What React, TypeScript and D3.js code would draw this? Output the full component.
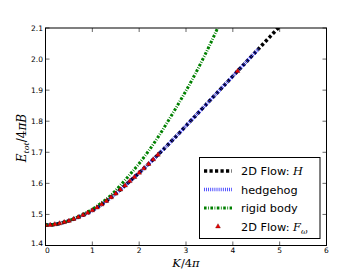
import React from 'react';
import * as d3 from 'd3';

// 2D Flow: H (black dashed)
const flowHK = [0, 0.2, 0.4, 0.6, 0.8, 1.0, 1.2, 1.4, 1.6, 1.8, 2.0, 2.2, 2.4, 2.6, 2.8, 3.0, 3.2, 3.4, 3.6, 3.8, 4.0, 4.2, 4.4, 4.6, 4.8, 5.0];
const flowHE = [1.466, 1.468, 1.475, 1.485, 1.498, 1.513, 1.532, 1.555, 1.580, 1.607, 1.634, 1.662, 1.692, 1.722, 1.753, 1.785, 1.817, 1.849, 1.881, 1.913, 1.945, 1.977, 2.009, 2.041, 2.073, 2.105];

// hedgehog (blue dotted)
const hedgeK = [0, 0.2, 0.4, 0.6, 0.8, 1.0, 1.2, 1.4, 1.6, 1.8, 2.0, 2.2, 2.4, 2.6, 2.8, 3.0, 3.2, 3.4, 3.6, 3.8, 4.0, 4.2, 4.4, 4.55];
const hedgeE = [1.466, 1.468, 1.475, 1.485, 1.498, 1.513, 1.532, 1.555, 1.580, 1.607, 1.634, 1.662, 1.692, 1.722, 1.753, 1.785, 1.817, 1.849, 1.881, 1.913, 1.945, 1.977, 2.009, 2.033];

// rigid body (green dash-dot)
const rigidK = [0, 0.2, 0.4, 0.6, 0.8, 1.0, 1.2, 1.4, 1.6, 1.8, 2.0, 2.2, 2.4, 2.6, 2.8, 3.0, 3.2, 3.4, 3.6, 3.7];
const rigidE = [1.466, 1.468, 1.475, 1.486, 1.500, 1.517, 1.538, 1.562, 1.594, 1.628, 1.664, 1.704, 1.748, 1.796, 1.846, 1.898, 1.953, 2.012, 2.075, 2.108];

// 2D Flow: F_omega (red triangles)
const fwK = [0, 0.1, 0.2, 0.3, 0.4, 0.5, 0.6, 0.7, 0.8, 0.9, 1.0, 1.1, 1.2, 1.3, 1.4, 1.5, 1.6, 1.7, 1.8, 1.9, 2.0, 2.1, 2.2, 2.3, 2.4, 4.1];
const fwE = [1.466, 1.466, 1.468, 1.471, 1.475, 1.479, 1.485, 1.491, 1.498, 1.505, 1.513, 1.522, 1.532, 1.543, 1.555, 1.567, 1.580, 1.593, 1.607, 1.620, 1.634, 1.648, 1.662, 1.677, 1.692, 1.961];

const xTicks = [0, 1, 2, 3, 4, 5, 6];
const yTicks = [1.4, 1.5, 1.6, 1.7, 1.8, 1.9, 2.0, 2.1];

const zip = (a: number[], b: number[]) => a.map((v, i) => [v, b[i]] as [number, number]);

export default function App() {
  const W = 363, H = 273;
  const L = 45.5, R = 326.5, T = 28, B = 245.5;
  const x = d3.scaleLinear().domain([0, 6]).range([L, R]);
  const y = d3.scaleLinear().domain([1.4, 2.1]).range([B, T]);
  const line = d3.line<[number, number]>().x(d => x(d[0])).y(d => y(d[1])).curve(d3.curveMonotoneX);
  const tri = d3.symbol(d3.symbolTriangle, 10)() as string;
  const tickFont = { fontFamily: 'DejaVu Sans, sans-serif', fontSize: 7.5 };
  const legFont = { fontFamily: 'DejaVu Sans, sans-serif', fontSize: 11.3 };
  const mathFont = 'DejaVu Serif, serif';

  const blackStyle = { stroke: '#000', strokeWidth: 3.5, strokeDasharray: '3.2 2.3', fill: 'none' };
  const blueStyle = { stroke: '#2a2aff', strokeWidth: 3.5, strokeDasharray: '0.8 1.3', fill: 'none' };
  const greenStyle = { stroke: '#008000', strokeWidth: 3, strokeDasharray: '2.6 1.5 0.8 1.5', fill: 'none' };

  const legRows = [171, 189.5, 208, 226.5];

  return (
    <svg width={W} height={H} style={{ position: 'absolute', left: 0, top: 0, background: '#fff' }}>
      <defs>
        <clipPath id="plot"><rect x={L} y={T} width={R - L} height={B - T} /></clipPath>
      </defs>
      <rect x={0} y={0} width={W} height={H} fill="#fff" />
      <g clipPath="url(#plot)">
        <path d={line(zip(flowHK, flowHE)) as string} style={blackStyle} />
        <path d={line(zip(hedgeK, hedgeE)) as string} style={blueStyle} />
        <path d={line(zip(rigidK, rigidE)) as string} style={greenStyle} />
        {fwK.map((k, i) => (
          <path key={i} d={tri} transform={`translate(${x(k)},${y(fwE[i])})`} fill="#ee0000" stroke="#660000" strokeWidth={0.4} />
        ))}
      </g>
      {/* frame */}
      <rect x={L} y={T} width={R - L} height={B - T} fill="none" stroke="#000" strokeWidth={1} />
      {/* ticks */}
      {xTicks.map(t => (
        <g key={'x' + t}>
          <line x1={x(t)} x2={x(t)} y1={B} y2={B - 4} stroke="#000" strokeWidth={0.6} />
          <line x1={x(t)} x2={x(t)} y1={T} y2={T + 4} stroke="#000" strokeWidth={0.6} />
          <text x={x(t) + (t === 0 ? 2 : 0)} y={252.5} textAnchor="middle" style={tickFont}>{t}</text>
        </g>
      ))}
      {yTicks.map(t => (
        <g key={'y' + t}>
          <line x1={L} x2={L + 4} y1={y(t)} y2={y(t)} stroke="#000" strokeWidth={0.6} />
          <line x1={R} x2={R - 4} y1={y(t)} y2={y(t)} stroke="#000" strokeWidth={0.6} />
          <text x={43} y={y(t) + (t === 1.4 ? 0.5 : 2.7)} textAnchor="end" style={tickFont}>{t.toFixed(1)}</text>
        </g>
      ))}
      {/* axis labels */}
      <text x={186} y={266.5} textAnchor="middle" style={{ fontFamily: mathFont, fontSize: 11.5 }}>
        <tspan fontStyle="italic">K</tspan>/4<tspan fontStyle="italic">π</tspan>
      </text>
      <text transform="translate(26,138) rotate(-90)" textAnchor="middle" style={{ fontFamily: mathFont, fontSize: 12 }}>
        <tspan fontStyle="italic">E</tspan><tspan fontStyle="italic" fontSize={8} dy={3}>tot</tspan><tspan dy={-3}>/4</tspan><tspan fontStyle="italic">πB</tspan>
      </text>
      {/* legend */}
      <rect x={199.5} y={157.5} width={120.5} height={81} fill="#fff" stroke="#000" strokeWidth={1} />
      <line x1={204} x2={232} y1={legRows[0]} y2={legRows[0]} style={blackStyle} />
      <line x1={204} x2={232} y1={legRows[1]} y2={legRows[1]} style={blueStyle} />
      <line x1={204} x2={232} y1={legRows[2]} y2={legRows[2]} style={greenStyle} />
      <path d={tri} transform={`translate(218,${legRows[3]})`} fill="#ee0000" stroke="#660000" strokeWidth={0.4} />
      <text x={241} y={legRows[0] + 4} style={legFont}>2D Flow: <tspan fontFamily={mathFont} fontStyle="italic">H</tspan></text>
      <text x={241} y={legRows[1] + 4} style={legFont}>hedgehog</text>
      <text x={241} y={legRows[2] + 4} style={legFont}>rigid body</text>
      <text x={241} y={legRows[3] + 4} style={legFont}>2D Flow: <tspan fontFamily={mathFont} fontStyle="italic">F</tspan><tspan fontFamily={mathFont} fontStyle="italic" fontSize={8} dy={3}>ω</tspan></text>
    </svg>
  );
}
